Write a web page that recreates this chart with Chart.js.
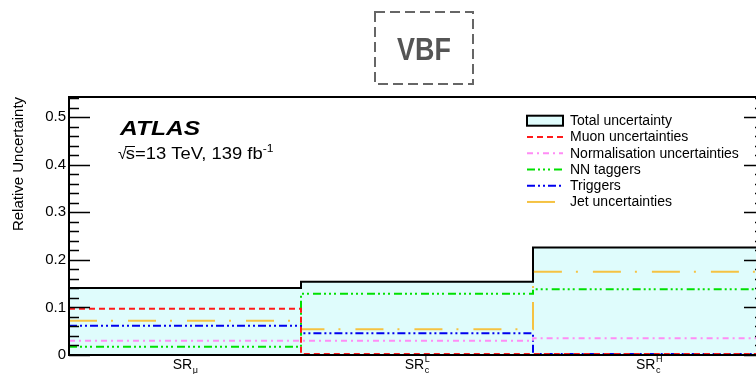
<!DOCTYPE html>
<html>
<head>
<meta charset="utf-8">
<script src="https://cdn.jsdelivr.net/npm/chart.js@4.4.1/dist/chart.umd.min.js"></script>
<style>
  html, body { margin: 0; padding: 0; background: #fff; overflow: hidden; }
  #wrap { width: 756px; height: 374px; overflow: hidden; position: relative; }
</style>
</head>
<body>
<div id="wrap"><canvas id="c" width="772" height="374"></canvas></div>
<script>
// Signal regions (bins), drawn as SR with sub/superscripts
const regionBase = ['SR', 'SR', 'SR'];
const regionSub  = ['\u03bc', 'c', 'c'];
const regionSup  = ['', 'L', 'H'];

// Relative uncertainty per region
const totalUnc   = [0.141, 0.154, 0.226];
const muonUnc    = [0.097, 0.002, 0.002];
const normUnc    = [0.030, 0.030, 0.035];
const nnTaggers  = [0.0175, 0.129, 0.138];
const triggers   = [0.0615, 0.0455, 0.002];
const jetUnc     = [0.072, 0.054, 0.175];

// Y axis
const yMajorTicks = [0, 0.1, 0.2, 0.3, 0.4, 0.5];
const yMinorStep = 0.02;
const yMax = 0.5425;

const FONT = "'Liberation Sans', Arial, Helvetica, sans-serif";

// histogram step points: one point per bin edge
function stepPoints(vals) {
  const pts = vals.map((v, i) => ({ x: i, y: v }));
  pts.push({ x: vals.length, y: vals[vals.length - 1] });
  return pts;
}

function series(label, vals, color, dash, order) {
  return {
    label, data: stepPoints(vals), borderColor: color, borderDash: dash,
    borderWidth: 2, stepped: 'before', pointRadius: 0, fill: false, order
  };
}

const datasets = [
  {
    label: 'Total uncertainty', data: stepPoints(totalUnc), borderColor: '#000',
    backgroundColor: '#dffcfc', borderWidth: 2, stepped: 'before', pointRadius: 0,
    fill: 'origin', order: 10, legendBox: true
  },
  series('Muon uncertainties', muonUnc, '#ff1a1a', [6, 4], 1),
  series('Normalisation uncertainties', normUnc, '#ff8cf5', [6, 4, 2, 4], 2),
  series('NN taggers', nnTaggers, '#00e000', [8, 3, 2, 3, 2, 3, 2, 4], 3),
  series('Triggers', triggers, '#0000ee', [8, 3, 2, 3, 2, 3], 4),
  series('Jet uncertainties', jetUnc, '#f5c242', [28, 14, 2, 15], 5)
];

function txt(ctx, s, x, y, font, sx, align) {
  ctx.save();
  ctx.font = font;
  ctx.textBaseline = 'alphabetic';
  ctx.textAlign = align || 'left';
  ctx.translate(x, y);
  ctx.scale(sx || 1, 1);
  ctx.fillText(s, 0, 0);
  const w = ctx.measureText(s).width * (sx || 1);
  ctx.restore();
  return w;
}

const decorations = {
  id: 'decorations',
  afterDatasetsDraw(chart) {
    const ctx = chart.ctx;
    const { left, right, top, bottom } = chart.chartArea;
    const ys = chart.scales.y, xs = chart.scales.x;

    // frame
    ctx.save();
    ctx.strokeStyle = '#000';
    ctx.lineWidth = 2;
    ctx.setLineDash([]);
    ctx.strokeRect(left, top, right - left, bottom - top);

    // inner ticks on left and right axes
    ctx.lineWidth = 1.5;
    const nMinor = Math.round(yMax / yMinorStep);
    for (let i = 0; i <= nMinor; i++) {
      const v = i * yMinorStep;
      if (v > yMax) break;
      const major = i % 5 === 0;
      const len = major ? 21 : 10;
      const py = Math.round(ys.getPixelForValue(v)) + 0.5;
      ctx.beginPath();
      ctx.moveTo(left, py); ctx.lineTo(left + len, py);
      ctx.moveTo(right, py); ctx.lineTo(right - len, py);
      ctx.stroke();
    }
    ctx.restore();

    ctx.save();
    ctx.fillStyle = '#000';
    // region labels at bin centres
    for (let i = 0; i < regionBase.length; i++) {
      const cx = xs.getPixelForValue(i + 0.5);
      ctx.font = `14px ${FONT}`;
      const wb = ctx.measureText(regionBase[i]).width;
      ctx.font = `9px ${FONT}`;
      const ws = Math.max(ctx.measureText(regionSub[i]).width, ctx.measureText(regionSup[i]).width);
      const x0 = cx - (wb + ws) / 2;
      const base = 369;
      txt(ctx, regionBase[i], x0, base, `14px ${FONT}`);
      txt(ctx, regionSub[i], x0 + wb + 0.5, base + 4, `9px ${FONT}`);
      if (regionSup[i]) txt(ctx, regionSup[i], x0 + wb + 0.5, base - 7, `9px ${FONT}`);
    }

    // y axis title
    ctx.save();
    ctx.translate(23, 164);
    ctx.rotate(-Math.PI / 2);
    ctx.font = `15px ${FONT}`;
    ctx.textAlign = 'center';
    ctx.fillText('Relative Uncertainty', 0, 0);
    ctx.restore();

    // experiment label
    txt(ctx, 'ATLAS', 120, 135, `bold italic 21px ${FONT}`, 1.17);
    const rx = 118, rb = 159;
    const wr = txt(ctx, '\u221a', rx, rb, `16px ${FONT}`, 1.0);
    const ws = txt(ctx, 's', rx + wr - 1, rb, `16px ${FONT}`, 1.15);
    ctx.lineWidth = 1;
    ctx.beginPath();
    ctx.moveTo(rx + wr - 1.5, rb - 12.5);
    ctx.lineTo(rx + wr - 1 + ws, rb - 12.5);
    ctx.stroke();
    const w2 = txt(ctx, '=13 TeV, 139 fb', rx + wr - 1 + ws, rb, `16px ${FONT}`, 1.15);
    txt(ctx, '-1', rx + wr - 1 + ws + w2, rb - 7, `11px ${FONT}`, 1.1);

    // legend
    const lx0 = 527, lx1 = 563, ltx = 570, ly0 = 120.7, ldy = 16.25;
    chart.data.datasets.forEach((ds, i) => {
      const cy = ly0 + i * ldy;
      ctx.save();
      if (ds.legendBox) {
        ctx.fillStyle = ds.backgroundColor;
        ctx.fillRect(lx0, cy - 5, lx1 - lx0, 10);
        ctx.strokeStyle = ds.borderColor;
        ctx.lineWidth = 2;
        ctx.strokeRect(lx0, cy - 5, lx1 - lx0, 10);
      } else {
        ctx.strokeStyle = ds.borderColor;
        ctx.lineWidth = 2;
        ctx.setLineDash(ds.borderDash);
        ctx.beginPath();
        ctx.moveTo(lx0, cy); ctx.lineTo(lx1, cy);
        ctx.stroke();
      }
      ctx.restore();
      ctx.fillStyle = '#000';
      ctx.font = `14px ${FONT}`;
      ctx.textBaseline = 'middle';
      ctx.textAlign = 'left';
      ctx.fillText(ds.label, ltx, cy + 0.5);
    });

    // channel tag above the plot
    ctx.strokeStyle = '#666';
    ctx.lineWidth = 2;
    ctx.setLineDash([10, 5]);
    ctx.strokeRect(375, 12, 98, 72);
    ctx.setLineDash([]);
    ctx.fillStyle = '#555';
    txt(ctx, 'VBF', 424, 60, `bold 32px ${FONT}`, 0.84, 'center');
    ctx.restore();
  }
};

new Chart(document.getElementById('c'), {
  type: 'line',
  data: { datasets },
  options: {
    responsive: false,
    devicePixelRatio: 1,
    animation: false,
    layout: { padding: { left: 0, right: 7, top: 97, bottom: 0 } },
    plugins: { legend: { display: false }, tooltip: { enabled: false } },
    scales: {
      x: {
        type: 'linear', min: 0, max: regionBase.length,
        grid: { display: false, drawTicks: false }, border: { display: false },
        ticks: { display: false },
        afterFit(s) { s.height = 19; }
      },
      y: {
        type: 'linear', min: 0, max: yMax,
        grid: { display: false, drawTicks: false, tickLength: 0 }, border: { display: false },
        afterBuildTicks(s) { s.ticks = yMajorTicks.map(v => ({ value: v })); },
        ticks: {
          padding: 3, color: '#000', autoSkip: false,
          font: { family: FONT, size: 15 },
          callback: v => (v === 0 ? '0' : v.toFixed(1))
        },
        afterFit(s) { s.width = 69; }
      }
    }
  },
  plugins: [decorations]
});
</script>
</body>
</html>
